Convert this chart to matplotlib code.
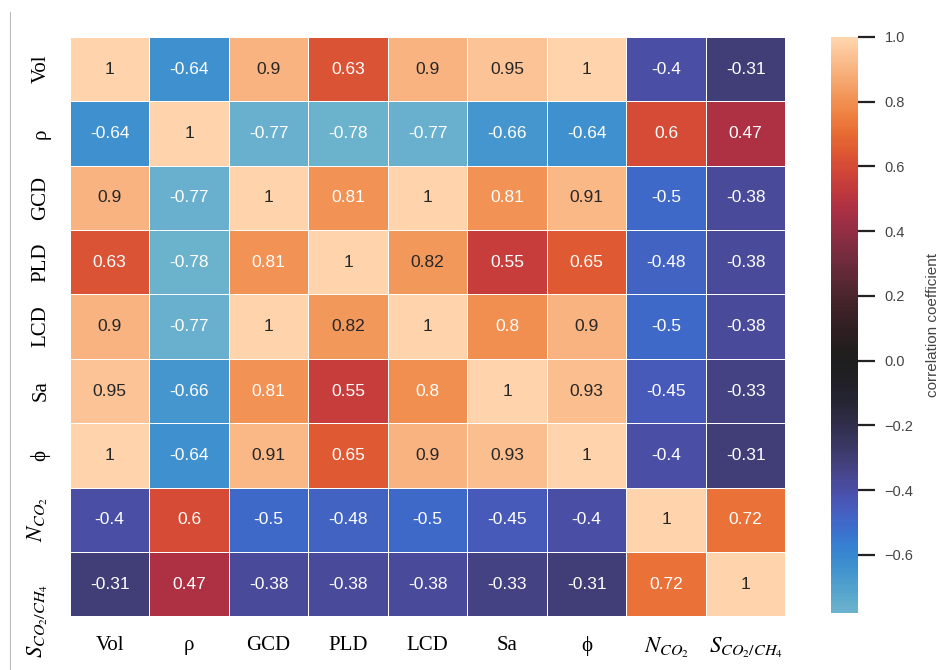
import matplotlib
matplotlib.use("Agg")
import matplotlib.pyplot as plt
from matplotlib.lines import Line2D
import numpy as np
import pandas as pd
import seaborn as sns

# descriptors / targets
labels = ["Vol", "ρ", "GCD", "PLD", "LCD", "Sa", "ϕ",
          r"$N_{CO_2}$", r"$S_{CO_2/CH_4}$"]

# correlation matrix (row by row)
r_vol = [1, -0.64, 0.9, 0.63, 0.9, 0.95, 1, -0.4, -0.31]
r_rho = [-0.64, 1, -0.77, -0.78, -0.77, -0.66, -0.64, 0.6, 0.47]
r_gcd = [0.9, -0.77, 1, 0.81, 1, 0.81, 0.91, -0.5, -0.38]
r_pld = [0.63, -0.78, 0.81, 1, 0.82, 0.55, 0.65, -0.48, -0.38]
r_lcd = [0.9, -0.77, 1, 0.82, 1, 0.8, 0.9, -0.5, -0.38]
r_sa = [0.95, -0.66, 0.81, 0.55, 0.8, 1, 0.93, -0.45, -0.33]
r_phi = [1, -0.64, 0.91, 0.65, 0.9, 0.93, 1, -0.4, -0.31]
r_nco2 = [-0.4, 0.6, -0.5, -0.48, -0.5, -0.45, -0.4, 1, 0.72]
r_sel = [-0.31, 0.47, -0.38, -0.38, -0.38, -0.33, -0.31, 0.72, 1]

corr = pd.DataFrame([r_vol, r_rho, r_gcd, r_pld, r_lcd, r_sa, r_phi, r_nco2, r_sel],
                    index=labels, columns=labels)

plt.rcParams['font.family'] = ['Liberation Sans', 'DejaVu Sans']
plt.rcParams['mathtext.fontset'] = 'stix'

fig = plt.figure(figsize=(9.44, 6.7), dpi=100)
ax = fig.add_axes([0.074, 0.08, 0.758, 0.865])
cax = fig.add_axes([0.880, 0.085, 0.029, 0.86])

sns.heatmap(corr, ax=ax, cbar_ax=cax, cmap="icefire", center=0,
            vmin=-0.78, vmax=1, annot=True, annot_kws={"size": 12.5},
            linewidths=0.6, linecolor="white",
            cbar_kws={"label": "correlation coefficient"})

serif = ['Liberation Serif', 'DejaVu Serif']
ax.tick_params(length=0, pad=14)
ax.set_xticklabels(labels, family=serif, fontsize=15, rotation=0)
ax.set_yticklabels(labels, family=serif, fontsize=15, rotation=90, va="center")
for t in ax.get_xticklabels()[-2:] + ax.get_yticklabels()[-2:]:
    t.set_fontsize(16.5)
# the long selectivity label hangs below its row
ax.get_yticklabels()[-1].set_va("top")

cax.tick_params(labelsize=10.5, length=12, width=1.6, colors="#222222", pad=7)
for t in cax.get_yticklabels():
    t.set_color("#444444")
cax.set_yticks([-0.6, -0.4, -0.2, 0.0, 0.2, 0.4, 0.6, 0.8, 1.0])
cax.set_ylabel("correlation coefficient", fontsize=11, color="#444444", labelpad=9)
for s in cax.spines.values():
    s.set_visible(False)

fig.add_artist(Line2D([0.011, 0.011], [0.0, 0.982], color="#bbbbbb", lw=0.8))

fig.savefig("out.png", dpi=100)
